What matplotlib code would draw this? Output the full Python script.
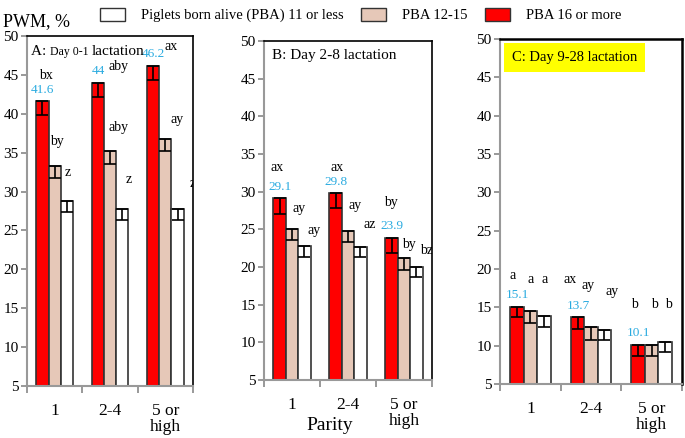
import numpy as np
import matplotlib
matplotlib.use('Agg')
import matplotlib.pyplot as plt
from matplotlib.patches import Patch

plt.rcParams['font.family'] = ['Liberation Serif', 'DejaVu Serif']

# data
parity = ['1', '2-4', '5 or\nhigh']
groups = ['Piglets born alive (PBA) 11 or less', 'PBA 12-15', 'PBA 16 or more']

# Day 0-1
a_low = [28.8, 27.8, 27.8]
a_mid = [33.3, 35.2, 36.7]
a_high = [41.6, 44.0, 46.2]
a_low_err = [1.4, 1.4, 1.4]
a_mid_err = [1.6, 1.6, 1.5]
a_high_err = [1.7, 1.8, 1.9]

# Day 2-8
b_low = [22.8, 22.7, 20.0]
b_mid = [25.0, 24.8, 21.2]
b_high = [29.1, 29.8, 23.9]
b_low_err = [1.5, 1.4, 1.3]
b_mid_err = [1.4, 1.5, 1.6]
b_high_err = [2.0, 2.0, 2.0]

# Day 9-28
c_low = [13.9, 12.1, 10.5]
c_mid = [14.5, 12.4, 10.1]
c_high = [15.1, 13.7, 10.1]
c_low_err = [1.4, 1.4, 1.3]
c_mid_err = [1.6, 1.6, 1.5]
c_high_err = [1.4, 1.5, 1.5]

# significance letters (text, x, y)
a_letters = [('bx', 0.34, 44.9), ('by', 0.54, 36.4), ('z', 0.74, 32.4),
             ('aby', 1.65, 46.1), ('aby', 1.66, 38.2), ('z', 1.84, 31.6),
             ('ax', 2.60, 48.6), ('ay', 2.71, 39.3), ('z', 2.99, 31.0)]
b_letters = [('ax', 0.24, 33.2), ('ay', 0.62, 27.7), ('ay', 0.89, 24.8),
             ('ax', 1.30, 33.2), ('ay', 1.62, 28.2), ('az', 1.89, 25.7),
             ('by', 2.27, 28.6), ('by', 2.59, 23.0), ('bz', 2.90, 22.2)]
c_letters = [('a', 0.21, 19.2), ('a', 0.51, 18.6), ('a', 0.74, 18.6),
             ('ax', 1.15, 18.6), ('ay', 1.45, 17.8), ('ay', 1.85, 17.0),
             ('b', 2.21, 15.4), ('b', 2.55, 15.4), ('b', 2.78, 15.4)]

colors = ['white', '#E6C8B8', '#FF0000']
blue = '#2AABE0'
edge = '#333333'

W, H = 685, 438
fig = plt.figure(figsize=(W / 100, H / 100), dpi=100)

boxes = [(27, 193, 36, 386), (264, 432, 41, 380), (500, 682, 39, 384)]
axes = []
for (x0, x1, y0, y1) in boxes:
    axes.append(fig.add_axes([x0 / W, 1 - y1 / H, (x1 - x0) / W, (y1 - y0) / H]))

panels = [
    (a_low, a_mid, a_high, a_low_err, a_mid_err, a_high_err, a_letters),
    (b_low, b_mid, b_high, b_low_err, b_mid_err, b_high_err, b_letters),
    (c_low, c_mid, c_high, c_low_err, c_mid_err, c_high_err, c_letters),
]

x = np.arange(len(parity)) + 0.5
w = 0.222
for ax, (lo, mi, hi, loe, mie, hie, letters) in zip(axes, panels):
    series = [hi, mi, lo]
    errs = [hie, mie, loe]
    cols = [colors[2], colors[1], colors[0]]
    for k, (vals, err, col) in enumerate(zip(series, errs, cols)):
        xs = x + (k - 1) * w
        ax.bar(xs, vals, w, color=col, edgecolor=edge, linewidth=1.2, zorder=2)
        ax.errorbar(xs, vals, yerr=[err, [0] * len(err)], fmt='none',
                    ecolor='black', elinewidth=1.2, capsize=4, capthick=1.2, zorder=3)
    for xi, v in zip(x - w, hi):
        ax.text(xi + 0.01, v + 1.5, '{:g}'.format(v), color=blue, fontsize=9.5,
                ha='center', va='center')
    for t, lx, ly in letters:
        ax.text(lx, ly, t, fontsize=10, ha='center', va='center', clip_on=True)

    ax.set_xlim(0, 3)
    ax.set_ylim(5, 50)
    ax.set_yticks(range(5, 51, 5))
    ax.set_xticks(x)
    ax.set_xticklabels(parity, fontsize=12.5, linespacing=1.05)
    ax.set_xticks([0, 1, 2, 3], minor=True)
    ax.tick_params(axis='x', which='major', length=0, pad=12)
    ax.tick_params(axis='x', which='minor', length=5, color='#888888', width=1.2)
    ax.tick_params(axis='y', length=4, color='#888888', width=1.2, labelsize=11, pad=2)
    for s in ['left', 'bottom']:
        ax.spines[s].set_color('#999999')
        ax.spines[s].set_linewidth(1.5)
    for s in ['top', 'right']:
        ax.spines[s].set_color('black')
        ax.spines[s].set_linewidth(1.2)

axes[2].spines['top'].set_linewidth(1.8)
axes[2].spines['right'].set_linewidth(1.8)

# panel titles
t1 = axes[0].text(0.025, 0.975, 'A: ', transform=axes[0].transAxes,
                  fontsize=11, va='top', ha='left')
t2 = axes[0].annotate('Day 0-1 ', xy=(1, 0), xycoords=t1, fontsize=8.5,
                      va='bottom', ha='left')
axes[0].annotate('lactation', xy=(1, 0), xycoords=t2, fontsize=11,
                 va='bottom', ha='left')
axes[1].text(0.05, 0.975, 'B: Day 2-8 lactation', transform=axes[1].transAxes,
             fontsize=11, va='top', ha='left')
axes[2].text(0.065, 0.947, 'C: Day 9-28 lactation', transform=axes[2].transAxes,
             fontsize=10.5, va='center', ha='left',
             bbox=dict(boxstyle='square,pad=0.55', facecolor='#FFFF00', edgecolor='none'))

fig.text(3 / W, 1 - 22 / H, 'PWM, %', fontsize=13, va='center', ha='left')
fig.text(330 / W, 1 - 426 / H, 'Parity', fontsize=14, va='center', ha='center')

handles = [Patch(facecolor=c, edgecolor=edge, linewidth=1.0) for c in colors]
fig.legend(handles, groups, loc='center', bbox_to_anchor=(0.527, 1 - 15 / H),
           ncol=3, frameon=False, fontsize=10.5, handlelength=1.7, handleheight=1.0,
           handletextpad=1.1, columnspacing=1.2, borderpad=0)

fig.savefig('out.png', dpi=100)
